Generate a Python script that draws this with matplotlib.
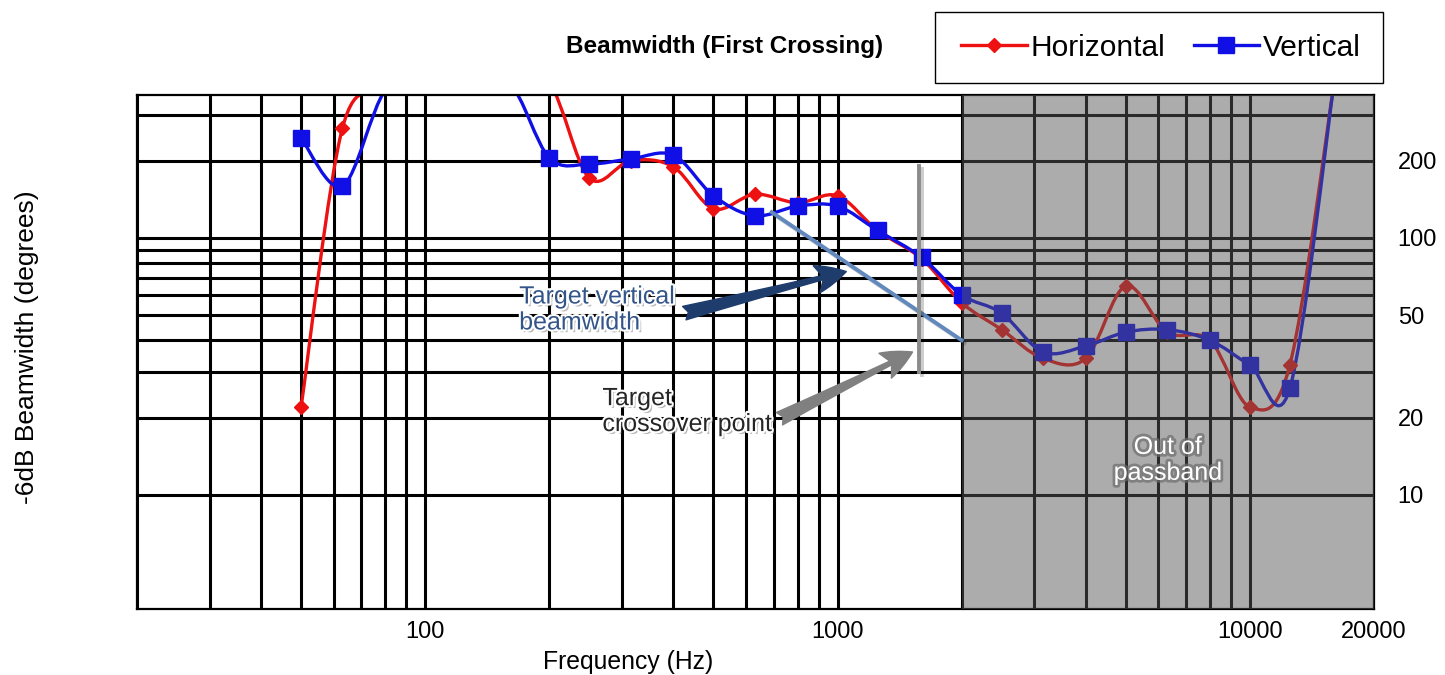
import numpy as np
import matplotlib
matplotlib.use('Agg')
import matplotlib.pyplot as plt
from matplotlib.path import Path
from matplotlib.patches import PathPatch, Rectangle
from matplotlib.lines import Line2D
from matplotlib.ticker import NullFormatter
import matplotlib.patheffects as pe

plt.rcParams['font.family'] = ['Liberation Sans', 'DejaVu Sans']

# 1/3 octave frequencies (Hz) and -6dB beamwidth (degrees); values > 360 are off the top of the chart
freq = [50, 63, 80, 100, 125, 160, 200, 250, 315, 400, 500, 630, 800, 1000,
        1250, 1600, 2000, 2500, 3150, 4000, 5000, 6300, 8000, 10000, 12500, 16000]
horizontal = [22, 268, 368, 400, 400, 400, 400, 171, 200, 189, 130, 148, 137, 146,
              107, 83, 56, 44, 34, 34, 65, 43, 40, 22, 32, 400]
vertical = [245, 159, 375, 400, 400, 400, 205, 194, 203, 210, 146, 122, 133, 133,
            107, 84, 60, 51, 36, 38, 43, 44, 40, 32, 26, 400]

x_major = [100, 1000, 10000, 20000]
x_minor = [20, 30, 40, 50, 60, 70, 80, 90, 200, 300, 400, 500, 600, 700, 800, 900,
           2000, 3000, 4000, 5000, 6000, 7000, 8000, 9000]
y_major = [10, 20, 50, 100, 200]
y_minor = [30, 40, 60, 70, 80, 90, 300]

red = '#ee1111'
blue = '#1010e6'


def smooth_path(xs, ys):
    # excel-like smoothed line: bezier segments, tangents from neighbours (log-log space)
    pts = np.column_stack([np.log10(xs), np.log10(ys)])
    n = len(pts)
    verts = [pts[0]]
    codes = [Path.MOVETO]
    for i in range(n - 1):
        p0 = pts[max(i - 1, 0)]
        p1 = pts[i]
        p2 = pts[i + 1]
        p3 = pts[min(i + 2, n - 1)]
        verts += [p1 + (p2 - p0) / 6, p2 - (p3 - p1) / 6, p2]
        codes += [Path.CURVE4] * 3
    return Path(10 ** np.array(verts), codes)


fig = plt.figure(figsize=(14.45, 6.75), dpi=100)
ax = fig.add_axes([137 / 1445, 1 - 609 / 675, (1374 - 137) / 1445, (609 - 95) / 675])
ax.set_xscale('log')
ax.set_yscale('log')
ax.set_xlim(20, 20000)
ax.set_ylim(3.6, 360)

ax.set_xticks(x_major, labels=[str(v) for v in x_major])
ax.set_xticks(x_minor, minor=True)
ax.set_yticks(y_major, labels=[str(v) for v in y_major])
ax.set_yticks(y_minor, minor=True)
ax.xaxis.set_minor_formatter(NullFormatter())
ax.yaxis.set_minor_formatter(NullFormatter())
ax.yaxis.tick_right()
ax.tick_params(which='both', length=0)
ax.tick_params(axis='x', pad=9, labelsize=17)
ax.tick_params(axis='y', pad=17, labelsize=17)
ax.set_axisbelow(True)
ax.grid(True, which='both', color='black', lw=2.2)
for s in ax.spines.values():
    s.set_linewidth(1.6)
    s.set_color('black')

# series
for vals, col, mk, ms in [(horizontal, red, 'D', 7.5), (vertical, blue, 's', 12)]:
    ax.add_patch(PathPatch(smooth_path(freq, vals), fill=False, edgecolor=col,
                           lw=2.4, zorder=2))
    f = np.array(freq)
    v = np.array(vals)
    keep = v < 360
    ax.plot(f[keep], v[keep], linestyle='none', marker=mk, ms=ms, color=col, zorder=2.2)

# out of passband shading
ax.axvspan(2000, 20000, color='#575757', alpha=0.49, lw=0, zorder=2.6)

# target lines
ax.plot([692, 2000], [126, 40], color='#6189bd', lw=2.8, zorder=3,
        path_effects=[pe.SimpleLineShadow(offset=(2, -2), alpha=0.2), pe.Normal()])
ax.plot([1580, 1580], [190, 30], color='#8c8c8c', lw=2.8, zorder=3,
        path_effects=[pe.SimpleLineShadow(offset=(2, -2), alpha=0.2), pe.Normal()])

# annotations
ax.annotate('', xy=(1050, 74), xytext=(425, 51), zorder=4,
            arrowprops=dict(arrowstyle='fancy,head_length=1.1,head_width=1.0,tail_width=0.5',
                            color='#1f3d6c', shrinkA=0, shrinkB=0, mutation_scale=20))
ax.annotate('', xy=(1520, 36), xytext=(723, 19.8), zorder=4,
            arrowprops=dict(arrowstyle='fancy,head_length=1.1,head_width=1.0,tail_width=0.5',
                            color='#808080', shrinkA=0, shrinkB=0, mutation_scale=20))

glow = [pe.SimplePatchShadow(offset=(2, -2), shadow_rgbFace='#777777', alpha=0.5),
        pe.Stroke(linewidth=3, foreground='white'), pe.Normal()]
ax.text(169, 52.7, 'Target vertical\nbeamwidth', fontsize=18, color='#34558a',
        ha='left', va='center', linespacing=1.1, zorder=5, path_effects=glow)
ax.text(269, 21.2, 'Target\ncrossover point', fontsize=18, color='#262626',
        ha='left', va='center', linespacing=1.1, zorder=5, path_effects=glow)
ax.text(6324, 13.7, 'Out of\npassband', fontsize=18, color='white',
        ha='center', va='center', linespacing=1.1, zorder=5,
        path_effects=[pe.Stroke(linewidth=4, foreground='#6e6e6e', alpha=0.7), pe.Normal()])

# titles and axis labels
fig.text(725 / 1445, 1 - 47 / 675, 'Beamwidth (First Crossing)', fontsize=17.5,
         fontweight='bold', ha='center', va='center')
fig.text(628 / 1445, 1 - 662 / 675, 'Frequency (Hz)', fontsize=17.8,
         ha='center', va='center')
fig.text(27 / 1445, 1 - 347 / 675, '-6dB Beamwidth (degrees)', fontsize=19,
         rotation=90, ha='center', va='center')

# legend box
fig.patches.append(Rectangle((935 / 1445, 1 - 83 / 675), 448 / 1445, 71 / 675,
                             transform=fig.transFigure, fill=False,
                             edgecolor='black', lw=1.0))
handles = [Line2D([], [], color=red, lw=2.4, marker='D', ms=7.5),
           Line2D([], [], color=blue, lw=2.4, marker='s', ms=11)]
fig.legend(handles, ['Horizontal', 'Vertical'], loc='center',
           bbox_to_anchor=(1161 / 1445, 1 - 47.5 / 675), ncol=2, frameon=False,
           fontsize=21.5, handlelength=2.2, handletextpad=0.12, columnspacing=0.95,
           borderpad=0)

fig.savefig('out.png', dpi=100)
